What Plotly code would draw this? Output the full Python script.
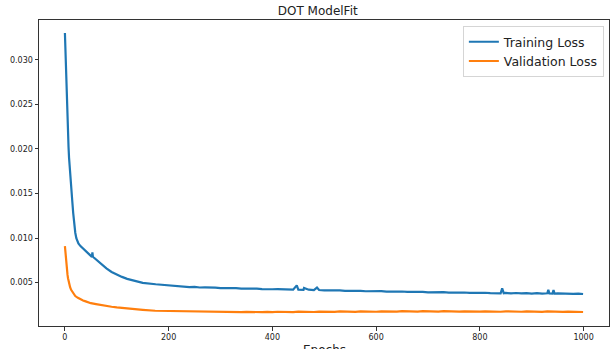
import plotly.graph_objects as go

train_epochs = [0,1,2,3,4,5,6,7,8,9,10,12,14,16,18,20,22,24,26,30,35,40,45,50,52,53,54,60,70,80,90,100,
                110,120,135,150,175,200,
                210,220,230,240,250,260,270,280,290,300,310,320,330,340,350,360,370,380,390,400,
                410,420,430,440,447,450,460,461,470,480,486,490,500,510,520,530,540,550,560,570,580,590,600,
                610,620,630,640,650,660,670,680,690,700,710,720,730,740,750,760,770,780,790,800,
                810,820,830,840,843,846,850,860,870,880,890,900,910,920,930,932,934,940,942,944,950,960,970,980,990,999]
train_loss = [0.0330,0.0308,0.0288,0.0268,0.0248,0.0230,0.0215,0.0202,0.0190,0.0180,0.0171,0.0157,0.0143,0.0128,0.0115,0.0106,0.0100,0.0097,0.0094,0.0091,0.0088,0.0085,0.0083,0.0080,0.0079,0.0084,0.0079,0.0076,0.0070,0.0066,0.0062,0.0059,
              0.00565,0.00543,0.00517,0.00498,0.00482,0.00470,
              0.00462,0.00456,0.00458,0.00451,0.00453,0.00446,0.00448,0.00442,0.00444,0.00439,0.00441,0.00436,0.00438,0.00433,0.00435,0.00430,0.00433,0.00428,0.00431,0.00426,
              0.00428,0.00423,0.00426,0.00421,0.00470,0.00422,0.00419,0.00440,0.00421,0.00416,0.00445,0.00418,0.00413,0.00416,0.00411,0.00414,0.00409,0.00411,0.00406,0.00409,0.00404,0.00407,0.00402,
              0.00405,0.00400,0.00403,0.00398,0.00401,0.00396,0.00399,0.00394,0.00397,0.00392,0.00395,0.00390,0.00393,0.00388,0.00391,0.00387,0.00390,0.00385,0.00388,0.00383,
              0.00387,0.00382,0.00385,0.00381,0.00435,0.00382,0.00385,0.00380,0.00384,0.00379,0.00383,0.00378,0.00382,0.00377,0.00381,0.00420,0.00379,0.00377,0.00418,0.00378,0.00379,0.00375,0.00378,0.00374,0.00377,0.00373]

val_epochs = [0,1,2,3,4,5,6,7,8,9,10,12,15,20,25,30,35,40,50,60,77,90,100,115,130,150,174,200,
              210,220,230,240,250,260,270,280,290,300,310,320,330,340,350,360,370,380,390,400,
              410,420,430,440,450,460,470,480,490,500,510,520,530,540,550,560,570,580,590,600,
              610,620,630,640,650,660,670,680,690,700,710,720,730,740,750,760,770,780,790,800,
              810,820,830,840,850,860,870,880,890,900,910,920,930,940,950,960,970,980,990,999]
val_loss = [0.0091,0.0083,0.0075,0.0068,0.0063,0.0059,0.0055,0.0052,0.0049,0.0047,0.0045,0.0042,0.0039,0.0035,0.0033,0.0031,0.0030,0.0029,0.0027,0.0026,0.0024,0.00230,0.00222,0.00212,0.00202,0.00195,0.00185,0.00182,
            0.00181,0.00178,0.00180,0.00176,0.00178,0.00174,0.00177,0.00172,0.00175,0.00171,0.00174,0.00170,0.00173,0.00169,0.00173,0.00169,0.00173,0.00169,0.00173,0.00169,
            0.00174,0.00170,0.00174,0.00170,0.00175,0.00171,0.00175,0.00171,0.00176,0.00172,0.00176,0.00172,0.00177,0.00173,0.00177,0.00173,0.00178,0.00174,0.00178,0.00174,
            0.00179,0.00175,0.00179,0.00175,0.00180,0.00176,0.00180,0.00176,0.00180,0.00176,0.00180,0.00176,0.00180,0.00176,0.00179,0.00175,0.00179,0.00175,0.00179,0.00175,
            0.00179,0.00175,0.00178,0.00174,0.00178,0.00174,0.00178,0.00174,0.00177,0.00173,0.00177,0.00173,0.00177,0.00173,0.00176,0.00172,0.00176,0.00172,0.00175,0.00171]

x_ticks = [0, 200, 400, 600, 800, 1000]
y_ticks = [0.005, 0.010, 0.015, 0.020, 0.025, 0.030]
y_tick_labels = ["0.005", "0.010", "0.015", "0.020", "0.025", "0.030"]

fig = go.Figure()
fig.add_trace(go.Scatter(x=train_epochs, y=train_loss, mode="lines", name="Training Loss",
                         line=dict(color="#1f77b4", width=2.2)))
fig.add_trace(go.Scatter(x=val_epochs, y=val_loss, mode="lines", name="Validation Loss",
                         line=dict(color="#ff7f0e", width=2.2)))

axis_common = dict(showline=True, linecolor="#333333", linewidth=1, mirror=True,
                   ticks="outside", ticklen=3.5, tickwidth=0.8, tickcolor="#333333",
                   showgrid=False, zeroline=False,
                   tickfont=dict(family="DejaVu Sans", size=8, color="#222222"))

fig.update_layout(
    width=611, height=349,
    margin=dict(l=39, r=2, t=20, b=23),
    paper_bgcolor="white", plot_bgcolor="white",
    font=dict(family="DejaVu Sans", color="#222222"),
    title=dict(text="DOT ModelFit", x=0.52, xanchor="center", y=1 - 11/349, yanchor="middle",
               font=dict(family="DejaVu Sans", size=12, color="#222222")),
    xaxis=dict(range=[-49.95, 1048.95], tickvals=x_ticks, **axis_common),
    yaxis=dict(range=[0.00014, 0.03446], tickvals=y_ticks, ticktext=y_tick_labels, **axis_common),
    legend=dict(x=0.991, xanchor="right", y=0.980, yanchor="top",
                bgcolor="white", bordercolor="#d5d5d5", borderwidth=1,
                font=dict(family="DejaVu Sans", size=12.5, color="#222222"),
                itemwidth=30),
    showlegend=True,
)
fig.add_annotation(text="Epochs", xref="paper", yref="paper", x=0.5, y=0, xanchor="center",
                   yanchor="top", yshift=-15, showarrow=False,
                   font=dict(family="DejaVu Sans", size=12, color="#222222"))

fig.write_html("out.html")
